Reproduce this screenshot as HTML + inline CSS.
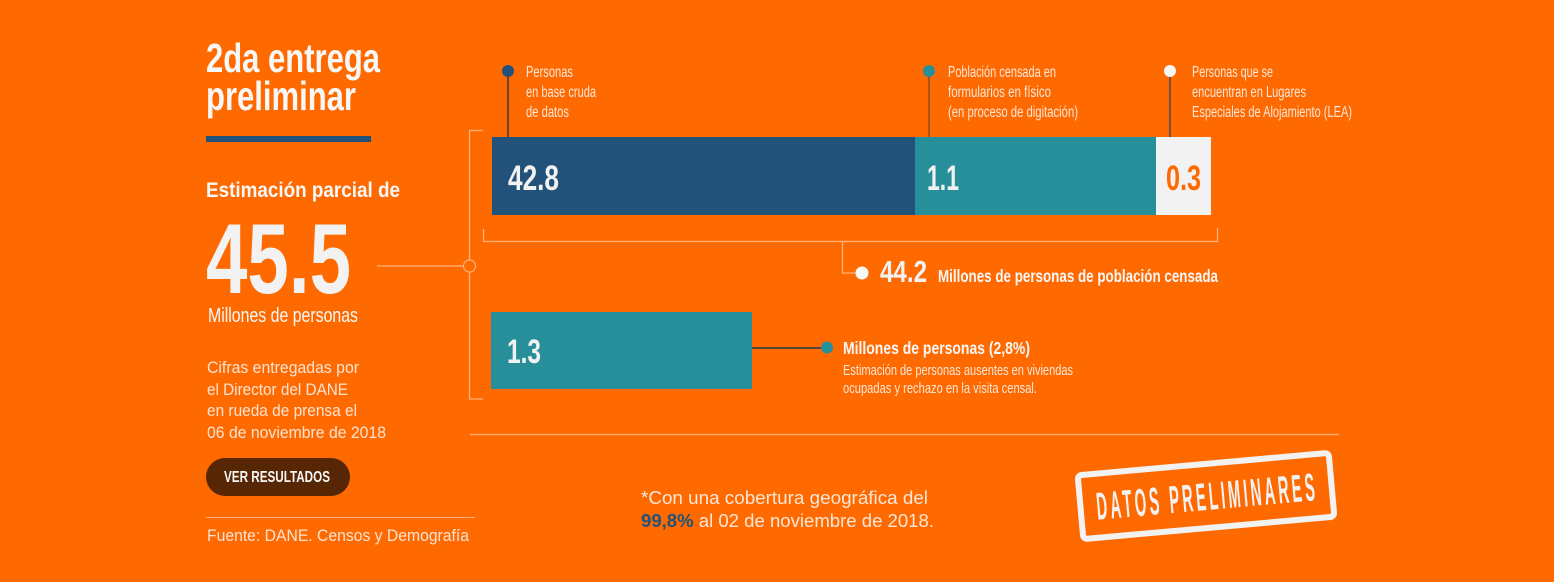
<!DOCTYPE html>
<html><head><meta charset="utf-8"><style>
html,body{margin:0;padding:0;background:#ff6a00;}
svg{display:block;}
text{font-family:"Liberation Sans",sans-serif;}
</style></head><body>
<svg width="1554" height="582" viewBox="0 0 1554 582" xmlns="http://www.w3.org/2000/svg">
<rect x="0" y="0" width="1554" height="582" fill="#ff6a00"/>

<!-- Left column -->
<text x="206" y="72" font-size="41" font-weight="bold" fill="#f7f7f7" textLength="174" lengthAdjust="spacingAndGlyphs">2da entrega</text>
<text x="206" y="110" font-size="41" font-weight="bold" fill="#f7f7f7" textLength="150" lengthAdjust="spacingAndGlyphs">preliminar</text>
<rect x="206" y="136" width="165" height="6" fill="#22527a"/>
<text x="206" y="197" font-size="21.5" font-weight="bold" fill="#f7f7f7" textLength="194" lengthAdjust="spacingAndGlyphs">Estimación parcial de</text>
<text x="206" y="293" font-size="99" font-weight="bold" fill="#f2f2f2" textLength="145" lengthAdjust="spacingAndGlyphs">45.5</text>
<text x="208" y="322" font-size="20.5" fill="#f7f7f7" textLength="150" lengthAdjust="spacingAndGlyphs">Millones de personas</text>

<g font-size="16.5" fill="#fbe3d3">
<text x="207" y="373" textLength="152" lengthAdjust="spacingAndGlyphs">Cifras entregadas por</text>
<text x="207" y="395" textLength="141" lengthAdjust="spacingAndGlyphs">el Director del DANE</text>
<text x="207" y="416" textLength="150" lengthAdjust="spacingAndGlyphs">en rueda de prensa el</text>
<text x="207" y="438" textLength="179" lengthAdjust="spacingAndGlyphs">06 de noviembre de 2018</text>
</g>

<rect x="206" y="458" width="144" height="38" rx="19" ry="19" fill="#572605"/>
<text x="224" y="482" font-size="15.5" font-weight="bold" fill="#f7f7f7" textLength="106" lengthAdjust="spacingAndGlyphs">VER RESULTADOS</text>

<line x1="206" y1="517.5" x2="475" y2="517.5" stroke="#ffb27d" stroke-width="1"/>
<text x="207" y="541" font-size="16.5" fill="#fbe3d3" textLength="262" lengthAdjust="spacingAndGlyphs">Fuente: DANE. Censos y Demografía</text>

<!-- Connector from 45.5 -->
<g stroke="#ffb27d" stroke-width="1.2" fill="none">
<line x1="377" y1="266" x2="463" y2="266"/>
<circle cx="469.5" cy="266" r="6"/>
<polyline points="483,130.5 469.5,130.5 469.5,260"/>
<polyline points="469.5,272 469.5,399 483,399"/>
<polyline points="483.5,229 483.5,241.5 1217.5,241.5 1217.5,228"/>
<polyline points="842.5,241.5 842.5,273 857,273"/>
<line x1="470" y1="434.5" x2="1339" y2="434.5"/>
</g>
<circle cx="862" cy="273" r="6.5" fill="#f7f7f7"/>

<!-- Pins -->
<line x1="508" y1="71" x2="508" y2="137" stroke="#6b4632" stroke-width="2"/>
<circle cx="508" cy="71" r="6" fill="#22527a"/>
<line x1="929" y1="71" x2="929" y2="137" stroke="#a8531c" stroke-width="2"/>
<circle cx="929" cy="71" r="6" fill="#268f9a"/>
<line x1="1170" y1="71" x2="1170" y2="137" stroke="#4a4650" stroke-width="1.5"/>
<circle cx="1170" cy="71" r="6" fill="#f7f7f7"/>

<g font-size="15.5" fill="#fbe6d8">
<text x="526" y="77" textLength="47" lengthAdjust="spacingAndGlyphs">Personas</text>
<text x="526" y="97" textLength="70" lengthAdjust="spacingAndGlyphs">en base cruda</text>
<text x="526" y="117" textLength="43" lengthAdjust="spacingAndGlyphs">de datos</text>
<text x="948" y="77" textLength="108" lengthAdjust="spacingAndGlyphs">Población censada en</text>
<text x="948" y="97" textLength="103" lengthAdjust="spacingAndGlyphs">formularios en físico</text>
<text x="948" y="117" textLength="130" lengthAdjust="spacingAndGlyphs">(en proceso de digitación)</text>
<text x="1192" y="77" textLength="81" lengthAdjust="spacingAndGlyphs">Personas que se</text>
<text x="1192" y="97" textLength="114" lengthAdjust="spacingAndGlyphs">encuentran en Lugares</text>
<text x="1192" y="117" textLength="160" lengthAdjust="spacingAndGlyphs">Especiales de Alojamiento (LEA)</text>
</g>

<!-- Main bar -->
<rect x="492" y="137" width="423" height="78" fill="#22527a"/>
<rect x="915" y="137" width="241" height="78" fill="#268f9a"/>
<rect x="1156" y="137" width="55" height="78" fill="#f2f2f2"/>
<text x="508" y="190" font-size="35" font-weight="bold" fill="#f2f2f2" textLength="51" lengthAdjust="spacingAndGlyphs">42.8</text>
<text x="927" y="190" font-size="35" font-weight="bold" fill="#f2f2f2" textLength="32" lengthAdjust="spacingAndGlyphs">1.1</text>
<text x="1166" y="190" font-size="35" font-weight="bold" fill="#ff6a00" textLength="35" lengthAdjust="spacingAndGlyphs">0.3</text>

<text x="880" y="282" font-size="31" font-weight="bold" fill="#f2f2f2" textLength="47" lengthAdjust="spacingAndGlyphs">44.2</text>
<text x="938" y="282" font-size="17.5" font-weight="bold" fill="#f7f7f7" textLength="280" lengthAdjust="spacingAndGlyphs">Millones de personas de población censada</text>

<!-- Second bar -->
<rect x="491" y="312" width="261" height="77" fill="#268f9a"/>
<text x="507" y="363" font-size="34" font-weight="bold" fill="#f2f2f2" textLength="34" lengthAdjust="spacingAndGlyphs">1.3</text>
<line x1="752" y1="348" x2="822" y2="348" stroke="#5a4638" stroke-width="2"/>
<circle cx="827" cy="347.5" r="6" fill="#268f9a"/>
<text x="843" y="354" font-size="17.5" font-weight="bold" fill="#f7f7f7" textLength="187" lengthAdjust="spacingAndGlyphs">Millones de personas (2,8%)</text>
<text x="843" y="375" font-size="14.5" fill="#fbe6d8" textLength="230" lengthAdjust="spacingAndGlyphs">Estimación de personas ausentes en viviendas</text>
<text x="843" y="393" font-size="14.5" fill="#fbe6d8" textLength="194" lengthAdjust="spacingAndGlyphs">ocupadas y rechazo en la visita censal.</text>

<!-- Footnote -->
<text x="641" y="504" font-size="18" fill="#fbe6d8" textLength="287" lengthAdjust="spacingAndGlyphs">*Con una cobertura geográfica del</text>
<text x="641" y="527" font-size="18" fill="#fbe6d8" textLength="293" lengthAdjust="spacingAndGlyphs"><tspan font-weight="bold" fill="#22527a">99,8%</tspan> al 02 de noviembre de 2018.</text>

<!-- Stamp -->
<g transform="rotate(-5.1 1206 496)">
<rect x="1080" y="464" width="252" height="64" rx="4" ry="4" fill="none" stroke="#f2f2f2" stroke-width="6"/>
<g transform="translate(1096 510) scale(0.38 1)">
<text x="0" y="0" font-size="39" font-weight="bold" fill="#f2f2f2" textLength="576" lengthAdjust="spacing">DATOS PRELIMINARES</text>
</g>
</g>
</svg>
</body></html>
